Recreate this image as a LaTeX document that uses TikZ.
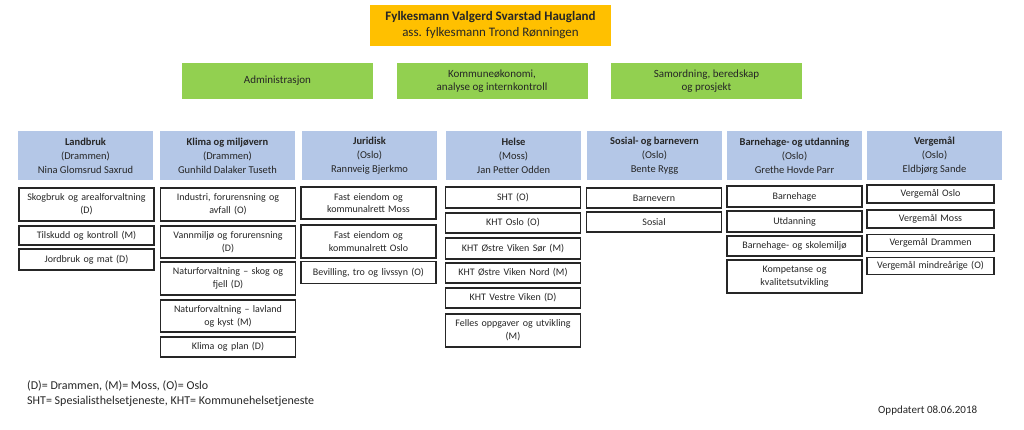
\documentclass[tikz,border=0pt]{standalone}
\usepackage{fontspec}
\setmainfont{Carlito}
\usepackage{tikz}

\definecolor{chiefgold}{HTML}{FFC000}
\definecolor{staffgreen}{HTML}{92D050}
\definecolor{unitblue}{HTML}{B4C7E7}
\definecolor{inkgray}{HTML}{262626}

\tikzset{
  chief/.style={fill=chiefgold, minimum width=241, minimum height=41, align=center,
    inner sep=1, font=\fontsize{13}{16}\selectfont, text=inkgray},
  staff/.style={fill=staffgreen, minimum width=191, minimum height=36, align=center,
    inner sep=1, font=\fontsize{11}{13.5}\selectfont, text=inkgray},
  unit/.style={fill=unitblue, minimum width=135, minimum height=49, align=center,
    inner sep=1, font=\fontsize{10.5}{14}\selectfont, text=inkgray},
  sect/.style={draw=black!85, line width=1.1, fill=white, minimum width=135,
    text width=133, align=center, inner sep=0.5, font=\fontsize{10}{12.8}\selectfont, text=inkgray},
  note/.style={anchor=west, inner sep=0, font=\fontsize{12}{15}\selectfont, text=inkgray}
}

\begin{document}
\begin{tikzpicture}[x=1pt, y=-1pt]
    \useasboundingbox (0,0) rectangle (1024,430);

    % Leadership
    \node[chief] (fm) at (490.5,25.5) {\textbf{Fylkesmann Valgerd Svarstad Haugland}\\ass. fylkesmann Trond Rønningen};

    % Staff units
    \node[staff] (adm) at (277.5,81) {Administrasjon};
    \node[staff] (kom) at (492,81) {Kommuneøkonomi,\\analyse og internkontroll};
    \node[staff] (sam) at (706.5,81) {Samordning, beredskap\\og prosjekt};

    % Departments
    \node[unit] (lb) at (85.5,155.5) {\textbf{Landbruk}\\(Drammen)\\Nina Glomsrud Saxrud};
    \node[unit] (km) at (227.5,155.5) {\textbf{Klima og miljøvern}\\(Drammen)\\Gunhild Dalaker Tuseth};
    \node[unit] (ju) at (369.5,155.5) {\textbf{Juridisk}\\(Oslo)\\Rannveig Bjerkmo};
    \node[unit] (he) at (513.5,155.5) {\textbf{Helse}\\(Moss)\\Jan Petter Odden};
    \node[unit] (sb) at (654.5,155.5) {\textbf{Sosial- og barnevern}\\(Oslo)\\Bente Rygg};
    \node[unit] (bu) at (794.5,155.5) {\textbf{Barnehage- og utdanning}\\(Oslo)\\Grethe Hovde Parr};
    \node[unit] (vm) at (934.5,155.5) {\textbf{Vergemål}\\(Oslo)\\Eldbjørg Sande};

    % Landbruk
    \node[sect, minimum height=33] (lb1) at (86.5,204.5) {Skogbruk og arealforvaltning\\(D)};
    \node[sect, minimum height=19] (lb2) at (86.5,235.5) {Tilskudd og kontroll (M)};
    \node[sect, minimum height=21] (lb3) at (86.5,259.5) {Jordbruk og mat (D)};

    % Klima og miljøvern
    \node[sect, minimum height=33] (km1) at (228,204.5) {Industri, forurensning og\\avfall (O)};
    \node[sect, minimum height=32] (km2) at (228,242) {Vannmiljø og forurensning\\(D)};
    \node[sect, minimum height=33] (km3) at (228,278.5) {Naturforvaltning -- skog og\\fjell (D)};
    \node[sect, minimum height=32] (km4) at (228,316) {Naturforvaltning -- lavland\\og kyst (M)};
    \node[sect, minimum height=20] (km5) at (228,347) {Klima og plan (D)};

    % Juridisk
    \node[sect, minimum height=32] (ju1) at (368.5,203) {Fast eiendom og\\kommunalrett Moss};
    \node[sect, minimum height=33] (ju2) at (368.5,241.5) {Fast eiendom og\\kommunalrett Oslo};
    \node[sect, minimum height=22] (ju3) at (368.5,272.5) {Bevilling, tro og livssyn (O)};

    % Helse
    \node[sect, minimum height=21] (he1) at (513,197.5) {SHT (O)};
    \node[sect, minimum height=20] (he2) at (513,223) {KHT Oslo (O)};
    \node[sect, minimum height=21] (he3) at (513,248.5) {KHT Østre Viken Sør (M)};
    \node[sect, minimum height=20] (he4) at (513,273) {KHT Østre Viken Nord (M)};
    \node[sect, minimum height=20] (he5) at (513,298) {KHT Vestre Viken (D)};
    \node[sect, minimum height=33] (he6) at (513,330.5) {Felles oppgaver og utvikling\\(M)};

    % Sosial- og barnevern
    \node[sect, minimum height=20] (sb1) at (654,198) {Barnevern};
    \node[sect, minimum height=20] (sb2) at (654,222) {Sosial};

    % Barnehage- og utdanning
    \node[sect, minimum height=21] (bu1) at (794.5,196.5) {Barnehage};
    \node[sect, minimum height=21] (bu2) at (794.5,221.5) {Utdanning};
    \node[sect, minimum height=20] (bu3) at (794.5,246) {Barnehage- og skolemiljø};
    \node[sect, minimum height=33] (bu4) at (794.5,276.5) {Kompetanse og\\kvalitetsutvikling};

    % Vergemål
    \node[sect, minimum height=18, minimum width=127, text width=125] (vm1) at (930.5,194) {Vergemål Oslo};
    \node[sect, minimum height=18, minimum width=127, text width=125] (vm2) at (930.5,219) {Vergemål Moss};
    \node[sect, minimum height=17, minimum width=127, text width=125] (vm3) at (930.5,243) {Vergemål Drammen};
    \node[sect, minimum height=17, minimum width=127, text width=125] (vm4) at (930.5,266) {Vergemål mindreårige (O)};

    % Legend
    \node[note] (leg1) at (27,386) {(D)= Drammen, (M)= Moss, (O)= Oslo};
    \node[note] (leg2) at (27,401) {SHT= Spesialisthelsetjeneste, KHT= Kommunehelsetjeneste};
    \node[note, font=\fontsize{11}{13}\selectfont] (upd) at (878,411) {Oppdatert 08.06.2018};
\end{tikzpicture}
\end{document}
